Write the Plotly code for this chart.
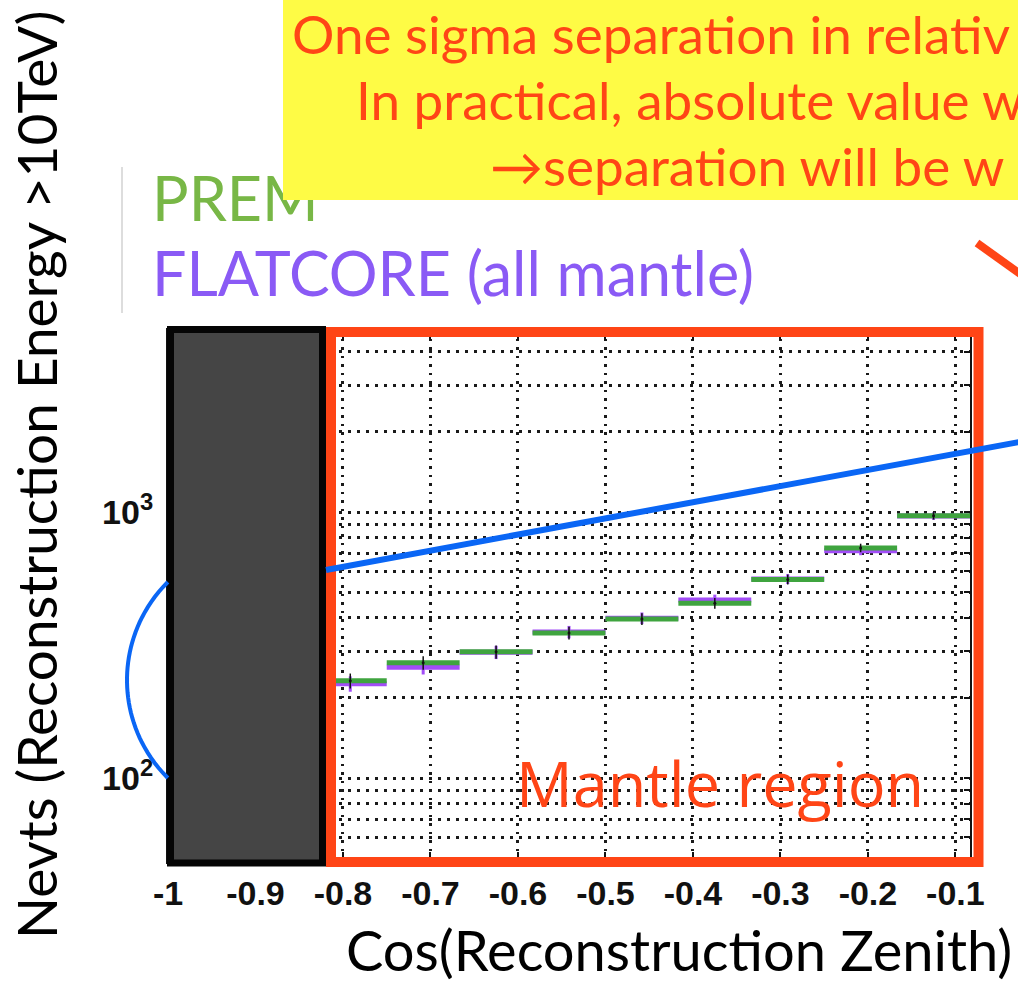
import numpy as np
import plotly.graph_objects as go

# ---- histogram contents: 11 bins of cos(zenith) between -1 and -1/12 ----
bin_edges = [-1 + k / 12 for k in range(12)]
prem_counts = [198, 215, 232, 271, 298, 351, 396, 454, 558, 733, 968]
flatcore_counts = [200, 207, 226, 261, 297, 354, 399, 467, 560, 715, 965]
prem_err = [14, 15, 15, 16, 17, 19, 20, 21, 24, 27, 31]
flatcore_err = [14, 14, 15, 16, 17, 19, 20, 22, 24, 27, 31]

x_tick_vals = [-1, -0.9, -0.8, -0.7, -0.6, -0.5, -0.4, -0.3, -0.2, -0.1]
x_tick_text = ["-1", "-0.9", "-0.8", "-0.7", "-0.6", "-0.5", "-0.4", "-0.3", "-0.2", "-0.1"]
y_grid_vals = [60, 70, 80, 90, 100, 200, 300, 400, 500, 600, 700, 800, 900, 1000, 2000, 3000, 4000]
y_tick_text = {100: "10<sup>2</sup>", 1000: "10<sup>3</sup>"}

# ---- page geometry (pixels) ----
FIG_W, FIG_H = 1018, 983
L, R, T, B = 168, 48, 330, 121
PW, PH = FIG_W - L - R, FIG_H - T - B
DECADE_PX = 266


def px(xp):
    return (xp - L) / PW


def py(yp):
    return (FIG_H - B - yp) / PH


ORANGE = "#FF4516"
GREEN_H = "#3FA43F"
PURPLE_H = "#A24DF7"

centers = [(bin_edges[i] + bin_edges[i + 1]) / 2 for i in range(len(prem_counts))]


def segments(vals):
    xs, ys = [], []
    for i, v in enumerate(vals):
        xs += [bin_edges[i], bin_edges[i + 1], None]
        ys += [v, v, None]
    return xs, ys


fig = go.Figure()

fx, fy = segments(flatcore_counts)
fig.add_trace(go.Scatter(x=fx, y=fy, mode="lines", line=dict(color=PURPLE_H, width=5),
                         showlegend=False, hoverinfo="skip"))
fig.add_trace(go.Scatter(x=centers, y=flatcore_counts, mode="markers",
                         marker=dict(size=1, color=PURPLE_H),
                         error_y=dict(type="data", array=flatcore_err, color=PURPLE_H,
                                      thickness=3, width=0),
                         showlegend=False, hoverinfo="skip"))
gx, gy = segments(prem_counts)
fig.add_trace(go.Scatter(x=gx, y=gy, mode="lines", line=dict(color=GREEN_H, width=5),
                         showlegend=False, hoverinfo="skip"))
fig.add_trace(go.Scatter(x=centers, y=prem_counts, mode="markers",
                         marker=dict(size=3, color="#111111"),
                         error_y=dict(type="data", array=prem_err, color="#111111",
                                      thickness=1.5, width=0),
                         showlegend=False, hoverinfo="skip"))

tick_font = dict(family="Arial, Liberation Sans", size=34, color="#111111", weight=700)
fig.update_xaxes(range=[-1, -1 / 12], tickvals=x_tick_vals, ticktext=x_tick_text,
                 tickfont=tick_font, ticks="inside", ticklen=10, tickwidth=1.5,
                 tickcolor="#111111", ticklabelstandoff=0,
                 minor=dict(ticks="inside", ticklen=5, dtick=0.02, tick0=-1,
                            tickcolor="#111111", showgrid=False),
                 showgrid=True, gridcolor="#1a1a1a", gridwidth=2.5, griddash="2.5px,6px",
                 showline=True, linecolor="#111111", linewidth=2, mirror="allticks",
                 zeroline=False)

# two decades shown; 10^3 sits 182 px below the top of the plot
top = 3 + 182 / DECADE_PX
fig.update_yaxes(type="log", range=[top - PH / DECADE_PX, top],
                 tickvals=y_grid_vals,
                 ticktext=[y_tick_text.get(v, "") for v in y_grid_vals],
                 tickfont=tick_font, ticks="inside", ticklen=6, tickwidth=1.5,
                 tickcolor="#111111", ticklabelstandoff=6,
                 showgrid=True, gridcolor="#1a1a1a", gridwidth=2.5, griddash="2.5px,6.5px",
                 showline=True, linecolor="#111111", linewidth=2, mirror="allticks",
                 zeroline=False)

shapes = []
# core region shaded box
shapes.append(dict(type="rect", xref="paper", yref="paper",
                   x0=px(170.5), x1=px(322.5), y0=py(863), y1=py(329.5),
                   fillcolor="#454545", line=dict(color="#050505", width=7), layer="above"))
# mantle region frame
shapes.append(dict(type="rect", xref="paper", yref="paper",
                   x0=px(331), x1=px(978.5), y0=py(862), y1=py(332),
                   fillcolor="rgba(0,0,0,0)", line=dict(color=ORANGE, width=10), layer="above"))
# blue guide line
shapes.append(dict(type="line", xref="paper", yref="paper",
                   x0=px(326), y0=py(570), x1=px(1030), y1=py(440),
                   line=dict(color="#0A66F5", width=6), layer="above"))
# blue bracket arc on the left
cx, cy, rad = 265.0, 680.0, 138.0
arc_y = np.linspace(582, 778, 40)
arc_x = cx - np.sqrt(rad ** 2 - (arc_y - cy) ** 2)
arc_path = "M " + " L ".join(f"{px(a):.5f},{py(b):.5f}" for a, b in zip(arc_x, arc_y))
shapes.append(dict(type="path", xref="paper", yref="paper", path=arc_path,
                   line=dict(color="#0A66F5", width=4), layer="above"))
# red pointer line at the top right
shapes.append(dict(type="line", xref="paper", yref="paper",
                   x0=px(977), y0=py(243), x1=px(1030), y1=py(281),
                   line=dict(color=ORANGE, width=8), layer="above"))
# thin separator left of the legend
shapes.append(dict(type="line", xref="paper", yref="paper",
                   x0=px(122), y0=py(167), x1=px(122), y1=py(313),
                   line=dict(color="#BBBBBB", width=1), layer="above"))

annotations = []
slide_font = "Lato, Open Sans, sans-serif"
annotations.append(dict(text="PREM", xref="paper", yref="paper", x=px(150), y=py(236),
                        xanchor="left", yanchor="bottom", showarrow=False,
                        font=dict(family=slide_font, size=61, color="#78B746")))
annotations.append(dict(text="FLATCORE (all mantle)", xref="paper", yref="paper",
                        x=px(150), y=py(311), xanchor="left", yanchor="bottom",
                        showarrow=False,
                        font=dict(family=slide_font, size=61, color="#8A5AF5")))
# yellow note box
annotations.append(dict(text=" ", xref="paper", yref="paper", x=px(283), y=py(0),
                        xanchor="left", yanchor="top", showarrow=False,
                        width=735, height=200, bgcolor="#FEFB45", borderpad=0,
                        borderwidth=0, font=dict(size=10)))
note_lines = ["One sigma separation in relativ",
              "In practical, absolute value w",
              "\u2192separation will be w"]
note_x = [290, 354, 488]
note_y = [34, 99, 166]
for txt, nx, ny in zip(note_lines, note_x, note_y):
    annotations.append(dict(text=txt, xref="paper", yref="paper", x=px(nx), y=py(ny),
                            xanchor="left", yanchor="middle", showarrow=False,
                            font=dict(family=slide_font, size=53, color=ORANGE)))
annotations.append(dict(text="Mantle region", xref="paper", yref="paper",
                        x=px(720), y=py(782), xanchor="center", yanchor="middle",
                        showarrow=False,
                        font=dict(family="Open Sans, sans-serif", size=63, color=ORANGE)))
annotations.append(dict(text="Cos(Reconstruction Zenith)", xref="paper", yref="paper",
                        x=px(679), y=py(950), xanchor="center", yanchor="middle",
                        showarrow=False,
                        font=dict(family=slide_font, size=56, color="#000000")))
annotations.append(dict(text="Nevts (Reconstruction Energy >10TeV)", xref="paper",
                        yref="paper", x=px(36), y=py(475), xanchor="center",
                        yanchor="middle", textangle=-90, showarrow=False,
                        font=dict(family=slide_font, size=55, color="#000000")))

fig.update_layout(width=FIG_W, height=FIG_H,
                  margin=dict(l=L, r=R, t=T, b=B, pad=0),
                  paper_bgcolor="white", plot_bgcolor="white",
                  shapes=shapes, annotations=annotations, showlegend=False)

fig.write_html("out.html")
